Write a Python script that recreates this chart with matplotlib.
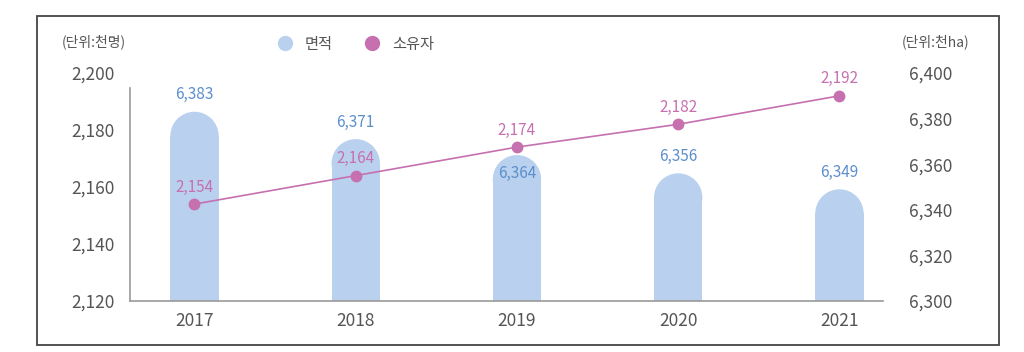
import matplotlib.pyplot as plt
from matplotlib.patches import Ellipse, Rectangle
from matplotlib.lines import Line2D

plt.rcParams['font.family'] = ['Noto Sans CJK KR', 'DejaVu Sans']

years = ['2017', '2018', '2019', '2020', '2021']
area = [6383, 6371, 6364, 6356, 6349]        # 면적 (천ha), right axis
owners = [2154, 2164, 2174, 2182, 2192]      # 소유자 (천명), left axis
left_ticks = [2120, 2140, 2160, 2180, 2200]
right_ticks = [6300, 6320, 6340, 6360, 6380, 6400]

bar_c = '#b9d1ee'
pink = '#c670b0'
blue_txt = '#5b8fcc'
grey_txt = '#555555'

W, H = 1024, 352
fig = plt.figure(figsize=(W / 100, H / 100), dpi=100)
ax_l, ax_r, ax_b, ax_t = 130, 883, 301, 73
ax = fig.add_axes([ax_l / W, 1 - ax_b / H, (ax_r - ax_l) / W, (ax_b - ax_t) / H])
ax2 = ax.twinx()

x = list(range(len(years)))
xlim = (-0.40, 4.27)
bw = 0.3

# bars (primary axes, ticks on right)
ax.set_xlim(*xlim)
ax.set_ylim(6300, 6400)
r_px = bw / 2 * (ax_r - ax_l) / (xlim[1] - xlim[0])
ry = r_px * 100 / (ax_b - ax_t)
for xi, v in zip(x, area):
    ax.bar(xi, v - ry - 6300, bottom=6300, width=bw, color=bar_c, linewidth=0, zorder=2)
    ax.add_patch(Ellipse((xi, v - ry), bw, 2 * ry, color=bar_c, linewidth=0, zorder=2))
    # the 2019 label goes inside the bar top, below the line marker
    if xi == 2:
        dy, va = -7, 'top'
    else:
        dy, va = 6, 'bottom'
    ax.annotate(f'{v:,}', (xi, v), xytext=(0, dy), textcoords='offset points',
                ha='center', va=va, fontsize=11, color=blue_txt, zorder=5)
ax.yaxis.tick_right()
ax.set_yticks(right_ticks)
ax.set_yticklabels([f'{t:,}' for t in right_ticks])
ax.tick_params(axis='y', length=0, pad=19, labelsize=12.5, labelcolor=grey_txt)
ax.set_xticks(x)
ax.set_xticklabels(years)
ax.tick_params(axis='x', length=0, pad=8, labelsize=12.5, labelcolor=grey_txt)

# line (twin axes, ticks on left)
ax2.set_ylim(2120, 2200)
ax2.plot(x, owners, color=pink, linewidth=1.2, marker='o', markersize=7.5, zorder=4)
for xi, v in zip(x, owners):
    ax2.annotate(f'{v:,}', (xi, v), xytext=(0, 6), textcoords='offset points',
                 ha='center', va='bottom', fontsize=11, color=pink)
ax2.yaxis.tick_left()
ax2.set_yticks(left_ticks)
ax2.set_yticklabels([f'{t:,}' for t in left_ticks])
ax2.tick_params(axis='y', length=0, pad=11, labelsize=12.5, labelcolor=grey_txt)

for a in (ax, ax2):
    for s in ('top', 'right', 'left'):
        a.spines[s].set_visible(False)
    a.spines['bottom'].set_color('#999999')
    a.spines['bottom'].set_linewidth(1.2)
ax2.spines['bottom'].set_visible(False)
ax2.spines['left'].set_visible(True)
ax2.spines['left'].set_color('#999999')
ax2.spines['left'].set_linewidth(1.2)
ax2.spines['left'].set_bounds(2120, 2194.7)
ax.patch.set_visible(False)

# unit labels
fig.text(94 / W, 1 - 42 / H, '(단위:천명)', ha='center', va='center', fontsize=10, color=grey_txt)
fig.text(936 / W, 1 - 42 / H, '(단위:천ha)', ha='center', va='center', fontsize=10, color=grey_txt)

# legend
handles = [Line2D([], [], linestyle='none', marker='o', markersize=10, color=bar_c),
           Line2D([], [], linestyle='none', marker='o', markersize=10, color=pink)]
fig.legend(handles, ['면적', '소유자'], loc='center', bbox_to_anchor=(352 / W, 1 - 44 / H),
           ncol=2, frameon=False, fontsize=11, handletextpad=0.3, columnspacing=1.6,
           labelcolor=grey_txt)

# outer frame
fig.patches.append(Rectangle((37 / W, 1 - 345 / H), (999 - 37) / W, (345 - 16) / H,
                             transform=fig.transFigure, fill=False,
                             edgecolor='#444444', linewidth=1.3))

fig.savefig('out.png', dpi=100)
